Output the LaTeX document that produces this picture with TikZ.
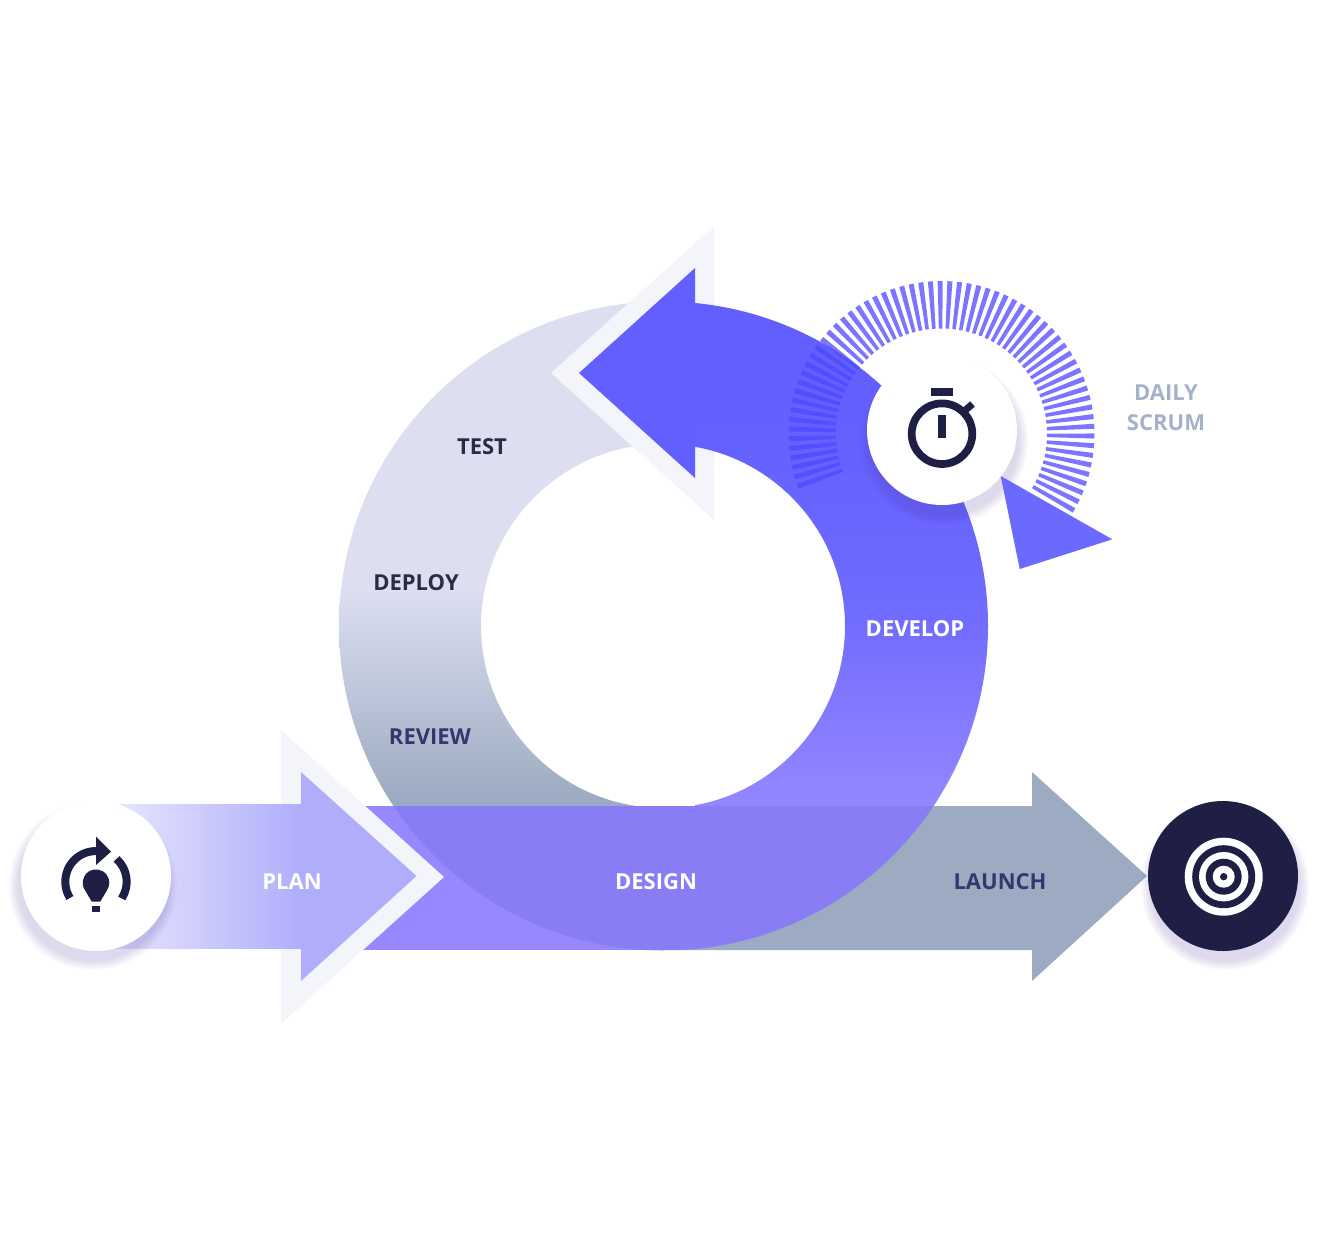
\documentclass[tikz,border=0pt]{standalone}
\usepackage{fontspec}
\setmainfont{Open Sans}
\definecolor{inkc}{HTML}{1F1F45}
\definecolor{labelc}{HTML}{2B2B45}
\definecolor{labeld}{HTML}{36366F}
\definecolor{scrumc}{HTML}{A5B0CB}
\definecolor{rimc}{HTML}{F4F5FB}
\definecolor{sprintc}{HTML}{635FFF}
\definecolor{tipc}{HTML}{6C69FF}
\definecolor{tickc}{HTML}{5047FF}
\definecolor{planc}{HTML}{B0AEFB}
\definecolor{bandl}{HTML}{9788FF}
\definecolor{bandm}{HTML}{897DF6}
\definecolor{bandr}{HTML}{9DABC2}
\definecolor{shadowc}{HTML}{5A3FA0}
% the ring's bounding box fills 25bp..75bp of each shading
\pgfdeclareverticalshading{ringgrey}{100bp}{rgb(0bp)=(0.60,0.66,0.75); rgb(36bp)=(0.60,0.66,0.75); rgb(52.8bp)=(0.867,0.875,0.945); rgb(100bp)=(0.867,0.875,0.945)}
\pgfdeclareverticalshading{ringblue}{100bp}{rgb(0bp)=(0.58,0.53,1); rgb(36bp)=(0.58,0.53,1); rgb(44.3bp)=(0.506,0.47,1); rgb(50.5bp)=(0.44,0.425,1); rgb(62bp)=(0.40,0.385,1); rgb(68bp)=(0.388,0.373,1); rgb(100bp)=(0.388,0.373,1)}
\tikzset{
	caption/.style={font=\bfseries\fontsize{22}{26}\selectfont, inner sep=0pt},
	hub/.style={circle, minimum size=150pt, inner sep=0pt, fill=white},
	tick mark/.style={tickc, opacity=0.75},
}
\newcommand{\hubshadow}[2]{%
	\foreach \r in {75,76.5,...,84} \fill[shadowc, opacity=0.03] (#1,#2) circle (\r);}
\begin{document}
\begin{tikzpicture}[x=1pt, y=-1pt, line join=round]
	\useasboundingbox (0,0) rectangle (1317,1251);
	\def\cx{663.5} \def\cy{626} % ring centre
	\def\ro{324.5} \def\ri{182}
	% ring, grey half then the arrow rim and blue half
	\begin{scope}
		\clip (300,290) rectangle (\cx,960);
		\shade[shading=ringgrey, even odd rule] (\cx,\cy) circle (\ro) (663,\cy) circle (\ri);
	\end{scope}
	\fill[rimc] (714,226)--(551,373)--(714,520)--cycle;
	\begin{scope}
		\clip (695,290) rectangle (1000,960);
		\shade[shading=ringblue, even odd rule] (\cx,\cy) circle (\ro) (663,\cy) circle (\ri);
	\end{scope}
	\fill[sprintc] (695,268)--(579,373)--(695,478)--cycle;
	% long arrow across the ring
	\fill[bandr] (\cx,806)--(1032,806)--(1032,772)--(1147,876)--(1032,981)--(1032,950)--(\cx,950)--cycle;
	\fill[bandl] (340,806) rectangle (\cx,950);
	\begin{scope}
		\clip (\cx,\cy) circle (\ro);
		\fill[bandm] (340,806) rectangle (1032,950);
	\end{scope}
	% short arrow
	\fill[rimc] (281,730)--(444,877)--(281,1024)--cycle;
	\shade[left color=white!75!planc, right color=planc] (96,804) rectangle (301,948);
	\fill[planc] (301,772)--(416.5,876)--(301,981)--cycle;
	% daily ticks
	\begin{scope}[shift={(941.5,434)}]
		\foreach \a in {-200,-196.35,...,30}
			\fill[tick mark] (\a-0.95:105.5)--(\a-0.95:153)--(\a+0.95:153)--(\a+0.95:105.5)--cycle;
	\end{scope}
	\hubshadow{944}{441}
	\node[hub] (daily) at (942,430) {};
	\fill[tipc] (1000.7,476)--(1112.3,539.3)--(1019.7,569)--cycle;
	\begin{scope}[shift={(daily.center)}]
		\draw[inkc, line width=7.7pt] (0,3.7) circle (30.3);
		\fill[inkc] (-11,-41.7) rectangle (11.3,-34);
		\fill[inkc] (-3.7,-15) rectangle (4,7.7);
		\draw[inkc, line width=7pt] (20,-17)--(30.5,-26);
	\end{scope}
	% start and end circles
	\hubshadow{93}{886}
	\node[hub] (start) at (96,876) {};
	\begin{scope}[shift={(start.center)}]
		\draw[inkc, line width=8pt] ([shift={(0,5.7)}]-212:30.7) arc (-212:-90:30.7);
		\draw[inkc, line width=8pt] ([shift={(0,5.7)}]-48:30.7) arc (-48:33:30.7);
		\fill[inkc] (0,-39.3)--(15,-24.3)--(0,-11)--cycle;
		\fill[inkc] (-4.3,25.7)--([shift={(0,6.7)}]145:13.3) arc (145:395:13.3)--(4.3,25.7)--cycle;
		\fill[inkc] (-4,30) rectangle (4,36);
	\end{scope}
	\hubshadow{1225}{886}
	\node[hub, fill=inkc] (goal) at (1223,876) {};
	\begin{scope}[shift={(goal.center)}]
		\fill[white] (0.7,0.7) circle (39);
		\fill[inkc] (0.7,0.7) circle (31.5);
		\fill[white] (0.7,0.7) circle (24.7);
		\fill[inkc] (0.7,0.7) circle (18);
		\fill[white] (0.7,0.7) circle (11);
		\fill[inkc] (0.7,0.7) circle (3.7);
	\end{scope}
	% labels
	\node[caption, labelc] (test) at (482,447) {TEST};
	\node[caption, labelc] (deploy) at (416,583) {DEPLOY};
	\node[caption, labeld] (review) at (430,737) {REVIEW};
	\node[caption, white] (plan) at (292,882) {PLAN};
	\node[caption, white] (design) at (656,882) {DESIGN};
	\node[caption, labeld] (launch) at (1000,882) {LAUNCH};
	\node[caption, white] (develop) at (915,629) {DEVELOP};
	\node[caption, scrumc] (dailyword) at (1166,393) {DAILY};
	\node[caption, scrumc] (scrum) at (1166,423) {SCRUM};
\end{tikzpicture}
\end{document}
